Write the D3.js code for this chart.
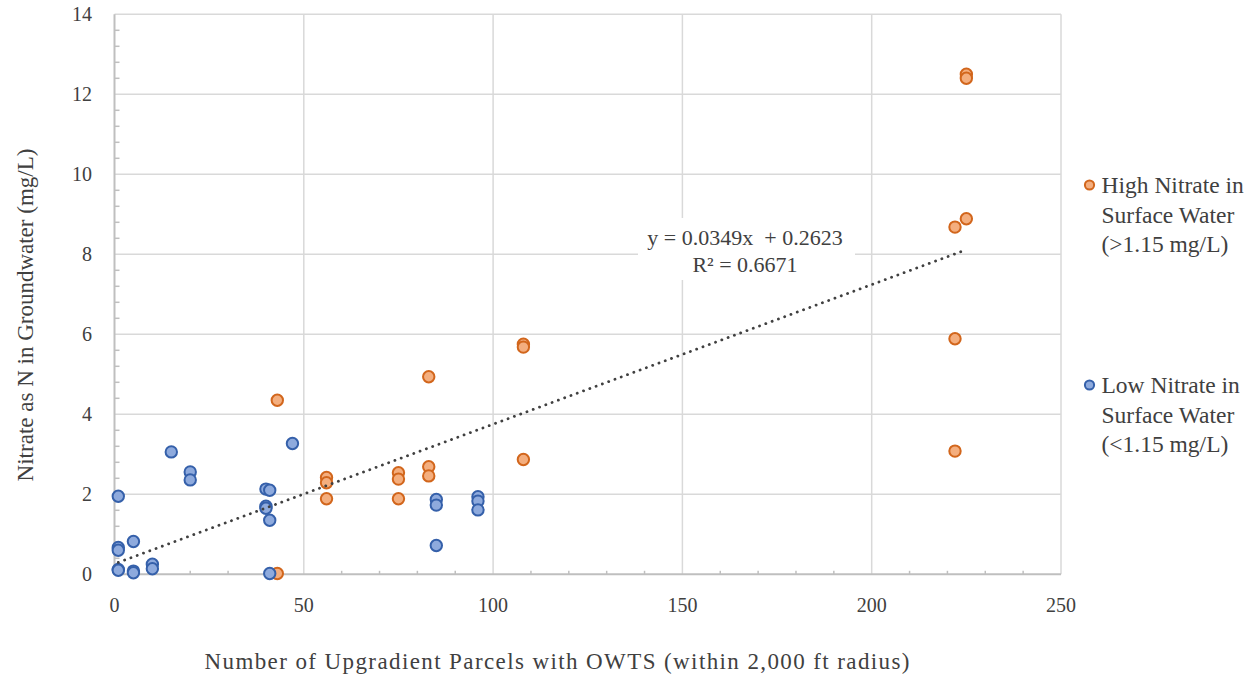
<!DOCTYPE html>
<html>
<head>
<meta charset="utf-8">
<script src="https://cdn.jsdelivr.net/npm/d3@7"></script>
<style>
  html, body { margin: 0; padding: 0; background: #fff; }
  svg { display: block; }
</style>
</head>
<body>
<svg id="chart" width="1254" height="675"></svg>
<script>
// Upgradient parcels with OWTS vs. groundwater nitrate, split by surface-water nitrate
const highX = [43, 43, 56, 56, 56, 75, 75, 75, 83, 83, 83, 108, 108, 108, 222, 222, 222, 225, 225, 225];
const highY = [4.35, 0.02, 2.42, 2.29, 1.89, 2.54, 2.38, 1.89, 4.94, 2.69, 2.46, 5.75, 5.68, 2.87, 8.68, 5.89, 3.08, 12.5, 12.4, 8.89];

const lowX = [1, 1, 1, 1, 1, 5, 5, 5, 10, 10, 15, 20, 20, 40, 41, 40, 40, 41, 41, 47, 85, 85, 85, 96, 96, 96];
const lowY = [1.95, 0.67, 0.6, 0.12, 0.1, 0.82, 0.08, 0.04, 0.25, 0.14, 3.06, 2.56, 2.36, 2.13, 2.1, 1.7, 1.65, 1.35, 0.02, 3.27, 1.87, 1.73, 0.72, 1.94, 1.83, 1.61];

const xTicks = [0, 50, 100, 150, 200, 250];
const yTicks = [0, 2, 4, 6, 8, 10, 12, 14];

// Linear fit over all sites
const trendSlope = 0.0349;
const trendIntercept = 0.2623;
const trendXRange = [1, 224];
const trendLines = ["y = 0.0349x  + 0.2623", "R\u00B2 = 0.6671"];

const seriesNames = [
  ["High Nitrate in", "Surface Water", "(>1.15 mg/L)"],
  ["Low Nitrate in", "Surface Water", "(<1.15 mg/L)"]
];

const xTitle = "Number of Upgradient Parcels with OWTS (within 2,000 ft radius)";
const yTitle = "Nitrate as N in Groundwater (mg/L)";

const FONT = "'Liberation Serif', 'Times New Roman', Tinos, 'DejaVu Serif', serif";
const TEXT_COLOR = "#404040";

const svg = d3.select("#chart")
  .attr("font-family", FONT);
const plotLeft = 114.5, plotTop = 14.3, plotW = 946.5, plotH = 560;

const x = d3.scaleLinear().domain([0, 250]).range([plotLeft, plotLeft + plotW]);
const y = d3.scaleLinear().domain([0, 14]).range([plotTop + plotH, plotTop]);

const gridColor = "#d9d9d9";
const axisColor = "#bfbfbf";

// gridlines
const grid = svg.append("g");
grid.selectAll("line.h").data(yTicks.filter(d => d > 0)).join("line")
  .attr("x1", x(0)).attr("x2", x(250))
  .attr("y1", d => y(d)).attr("y2", d => y(d))
  .attr("stroke", gridColor).attr("stroke-width", 1.5);
grid.selectAll("line.v").data(xTicks.filter(d => d > 0)).join("line")
  .attr("x1", d => x(d)).attr("x2", d => x(d))
  .attr("y1", y(0)).attr("y2", y(14))
  .attr("stroke", gridColor).attr("stroke-width", 1.5);

// minor ticks
const xMinor = d3.range(0, 251, 10).filter(d => d % 50 !== 0);
const yMinor = d3.range(0, 14.01, 0.4).filter(d => Math.abs(d / 2 - Math.round(d / 2)) > 0.01);
svg.append("g").selectAll("line").data(xMinor).join("line")
  .attr("x1", d => x(d)).attr("x2", d => x(d))
  .attr("y1", y(0)).attr("y2", y(0) - 3.5)
  .attr("stroke", axisColor).attr("stroke-width", 1.5);
svg.append("g").selectAll("line").data(yMinor).join("line")
  .attr("x1", x(0)).attr("x2", x(0) + 5)
  .attr("y1", d => y(d)).attr("y2", d => y(d))
  .attr("stroke", axisColor).attr("stroke-width", 1.5);

// axis lines
svg.append("line").attr("x1", x(0)).attr("x2", x(250)).attr("y1", y(0)).attr("y2", y(0))
  .attr("stroke", axisColor).attr("stroke-width", 2);
svg.append("line").attr("x1", x(0)).attr("x2", x(0)).attr("y1", y(0)).attr("y2", y(14))
  .attr("stroke", axisColor).attr("stroke-width", 2);

// tick labels
svg.append("g").selectAll("text").data(xTicks).join("text")
  .attr("x", d => x(d)).attr("y", 612)
  .attr("text-anchor", "middle").attr("font-size", 20).attr("fill", TEXT_COLOR)
  .text(d => d);
svg.append("g").selectAll("text").data(yTicks).join("text")
  .attr("x", 92).attr("y", d => y(d)).attr("dy", "0.34em")
  .attr("text-anchor", "end").attr("font-size", 20).attr("fill", TEXT_COLOR)
  .text(d => d);

// axis titles
svg.append("text").attr("x", 557).attr("y", 669)
  .attr("text-anchor", "middle").attr("font-size", 23).attr("fill", TEXT_COLOR)
  .attr("textLength", 705).attr("lengthAdjust", "spacing")
  .text(xTitle);
svg.append("text")
  .attr("transform", "translate(33,315) rotate(-90)")
  .attr("text-anchor", "middle").attr("font-size", 23).attr("fill", TEXT_COLOR)
  .text(yTitle);

// points
const styles = [
  { fill: "#F4AE7E", stroke: "#D2661C" },
  { fill: "#8EAADD", stroke: "#3560AA" }
];
const highPts = highX.map((v, i) => ({ x: v, y: highY[i] }));
const lowPts = lowX.map((v, i) => ({ x: v, y: lowY[i] }));
[highPts, lowPts].forEach((pts, k) => {
  svg.append("g").selectAll("circle").data(pts).join("circle")
    .attr("cx", d => x(d.x)).attr("cy", d => y(d.y)).attr("r", 5.7)
    .attr("fill", styles[k].fill).attr("stroke", styles[k].stroke).attr("stroke-width", 2);
});

// trend line
svg.append("line")
  .attr("x1", x(trendXRange[0])).attr("y1", y(trendSlope * trendXRange[0] + trendIntercept))
  .attr("x2", x(trendXRange[1])).attr("y2", y(trendSlope * trendXRange[1] + trendIntercept))
  .attr("stroke", "#404040").attr("stroke-width", 2.8)
  .attr("stroke-linecap", "round").attr("stroke-dasharray", "0.1 6.6");

// trend equation label
svg.append("rect").attr("x", 638).attr("y", 218).attr("width", 217).attr("height", 62).attr("fill", "#fff");
svg.append("g").selectAll("text").data(trendLines).join("text")
  .attr("x", 745).attr("y", (d, i) => 245 + i * 26.5)
  .attr("text-anchor", "middle").attr("font-size", 22).attr("fill", TEXT_COLOR)
  .style("white-space", "pre")
  .text(d => d);

// legend
const legendY = [185, 385];
seriesNames.forEach((lines, k) => {
  svg.append("circle").attr("cx", 1089.5).attr("cy", legendY[k]).attr("r", 4.6)
    .attr("fill", styles[k].fill).attr("stroke", styles[k].stroke).attr("stroke-width", 2);
  svg.append("g").selectAll("text").data(lines).join("text")
    .attr("x", 1101.5).attr("y", (d, i) => legendY[k] + 8 + i * 29.5)
    .attr("font-size", 23.5).attr("fill", TEXT_COLOR)
    .text(d => d);
});
</script>
</body>
</html>
